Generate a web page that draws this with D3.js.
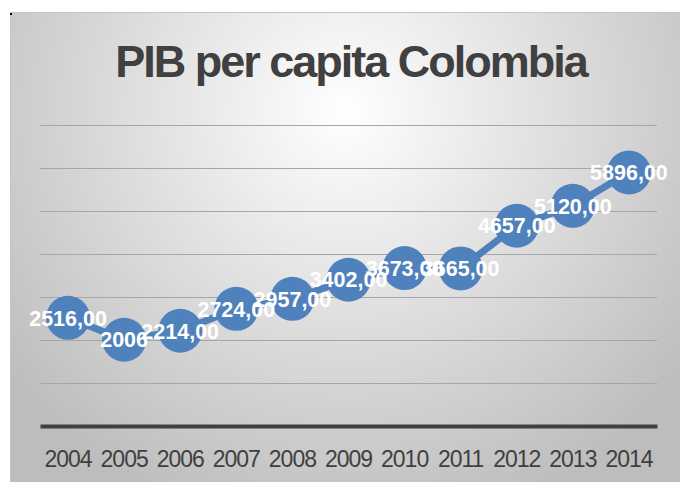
<!DOCTYPE html>
<html>
<head>
<meta charset="utf-8">
<script src="https://cdn.jsdelivr.net/npm/d3@7"></script>
<style>
  html, body { margin: 0; padding: 0; background: #ffffff; }
  svg { display: block; }
</style>
</head>
<body>
<script>
// ---- data ----
const years = ["2004","2005","2006","2007","2008","2009","2010","2011","2012","2013","2014"];
const values = [2516, 2006, 2214, 2724, 2957, 3402, 3673, 3665, 4657, 5120, 5896];
const valueLabels = ["2516,00","2006","2214,00","2724,00","2957,00","3402,00","3673,00","3665,00","4657,00","5120,00","5896,00"];
const gridValues = [1000, 2000, 3000, 4000, 5000, 6000, 7000];
const title = "PIB per capita Colombia";

// ---- layout ----
const W = 680, H = 482;
const plot = { left: 40, right: 657, top: 125, bottom: 426 };

const svg = d3.select("body").append("svg").attr("width", W).attr("height", H);

const defs = svg.append("defs");
const grad = defs.append("radialGradient")
  .attr("id", "bg").attr("gradientUnits", "userSpaceOnUse")
  .attr("cx", 345).attr("cy", 110).attr("r", 430);
grad.append("stop").attr("offset", "0%").attr("stop-color", "#ffffff");
grad.append("stop").attr("offset", "100%").attr("stop-color", "#bdbdbd");

svg.append("rect").attr("x", 10.5).attr("y", 12.5).attr("width", W - 10).attr("height", H - 12)
  .attr("fill", "url(#bg)").attr("stroke", "#c4c4c4").attr("stroke-width", 1);
svg.append("rect").attr("x", 10).attr("y", 13).attr("width", 2).attr("height", 2).attr("fill", "#000");

// title
svg.append("text")
  .attr("x", 351).attr("y", 77)
  .attr("text-anchor", "middle")
  .attr("font-family", "Liberation Sans, Arial, sans-serif")
  .attr("font-weight", "bold")
  .attr("font-size", 45)
  .attr("letter-spacing", "-2px")
  .attr("fill", "#404040")
  .text(title);

// scales
const x = d3.scaleBand().domain(years).range([plot.left, plot.right]).padding(0);
const y = d3.scaleLinear().domain([0, 7000]).range([plot.bottom, plot.top]);
const cx = d => x(d) + x.bandwidth() / 2;

// gridlines
const grid = svg.append("g").attr("transform", `translate(${plot.left},0)`)
  .call(d3.axisLeft(y).tickValues(gridValues).tickSize(-(plot.right - plot.left)).tickFormat(""));
grid.select(".domain").remove();
grid.selectAll(".tick line").attr("stroke", "#a6a6a6").attr("stroke-width", 1);

// x axis
const xa = svg.append("g").attr("transform", `translate(0,${plot.bottom})`)
  .call(d3.axisBottom(x).tickSize(0).tickPadding(25));
xa.select(".domain").attr("stroke", "#404040").attr("stroke-width", 4);
xa.selectAll(".tick text")
  .attr("font-family", "Liberation Sans, Arial, sans-serif")
  .attr("font-size", 23)
  .attr("letter-spacing", "-1px")
  .attr("fill", "#404040");

// line
const pts = years.map((yr, i) => ({ yr, v: values[i], label: valueLabels[i] }));
svg.append("path").datum(pts)
  .attr("fill", "none").attr("stroke", "#4f81bd").attr("stroke-width", 7)
  .attr("stroke-linejoin", "round")
  .attr("d", d3.line().x(d => cx(d.yr)).y(d => y(d.v)));

svg.selectAll("circle.m").data(pts).join("circle")
  .attr("class", "m")
  .attr("cx", d => cx(d.yr)).attr("cy", d => y(d.v)).attr("r", 22)
  .attr("fill", "#4f81bd");

svg.selectAll("text.lbl").data(pts).join("text")
  .attr("class", "lbl")
  .attr("x", d => cx(d.yr)).attr("y", d => y(d.v)).attr("dy", "0.36em")
  .attr("text-anchor", "middle")
  .attr("font-family", "Liberation Sans, Arial, sans-serif")
  .attr("font-weight", "bold")
  .attr("font-size", 21.5)
  .attr("fill", "#ffffff")
  .text(d => d.label);
</script>
</body>
</html>
